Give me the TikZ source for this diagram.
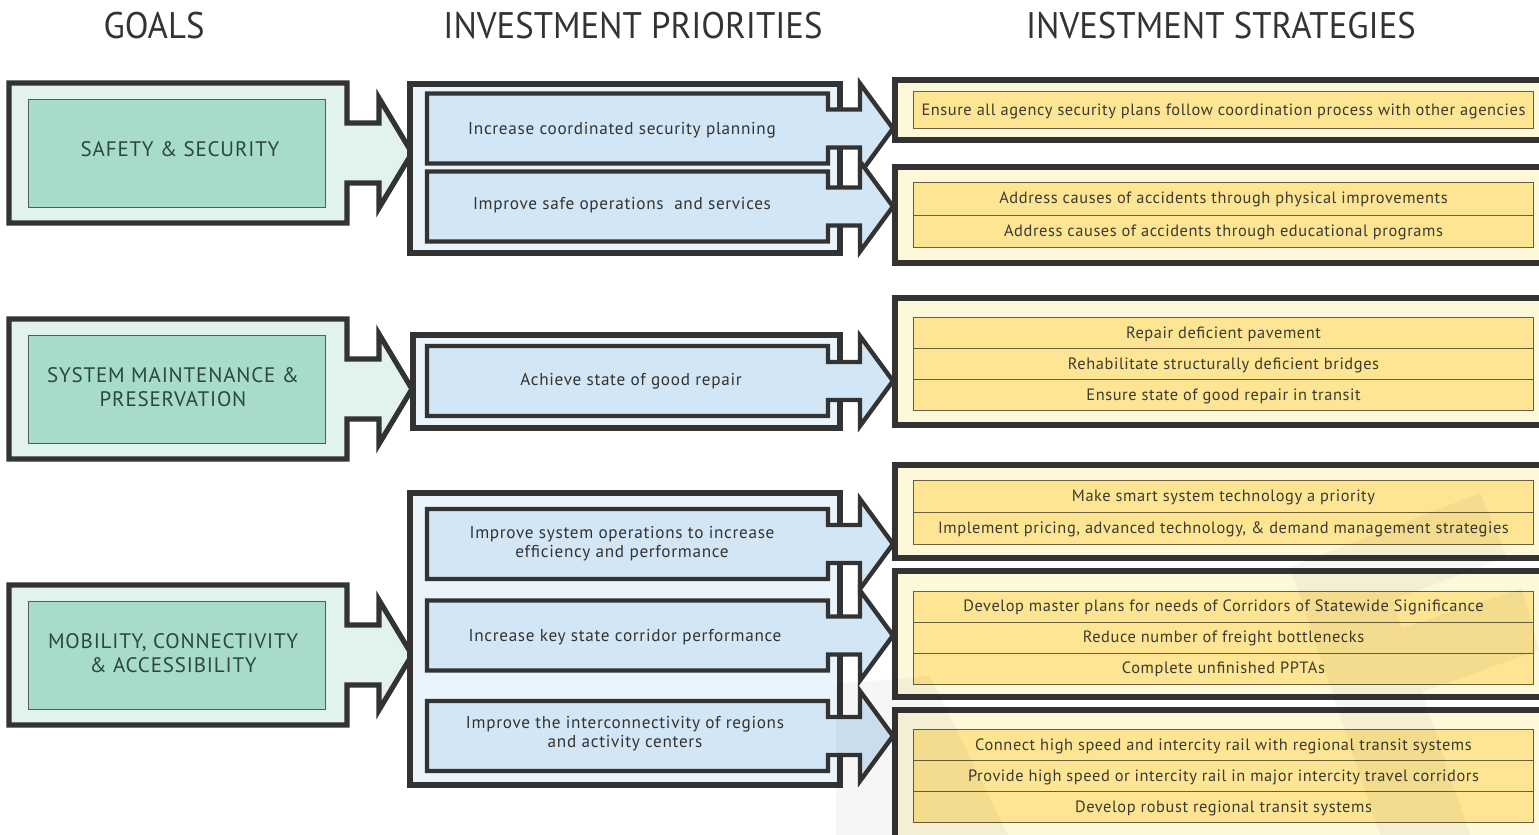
\documentclass[tikz,border=0pt]{standalone}
\usepackage{fontspec}
\setmainfont{PT Sans}
\newfontfamily\headfont[FakeStretch=0.94]{PT Sans}
\newfontfamily\spacedfont[LetterSpace=4]{PT Sans}
\newfontfamily\stratfont[LetterSpace=3.5]{PT Sans}
\usepackage{tikz}
\usetikzlibrary{matrix, positioning}
\usepackage{xcolor}

\definecolor{edgegray}{HTML}{333333}
\definecolor{goalback}{HTML}{E2F2EC}
\definecolor{goalfill}{HTML}{A7DCCA}
\definecolor{goaltext}{HTML}{2C4640}
\definecolor{prioback}{HTML}{EAF4FC}
\definecolor{priofill}{HTML}{D3E6F6}
\definecolor{stratback}{HTML}{FDF8DA}
\definecolor{stratfill}{HTML}{FDE594}
\definecolor{stratline}{HTML}{6B5E3A}
\definecolor{strattext}{HTML}{3D3A30}

% goal block arrow, #1 = middle row (px)
\newcommand{\goalarrow}[1]{%
	\draw[goal shape] (9,{#1-70}) -- (347,{#1-70}) -- (347,{#1-30}) -- (379,{#1-30}) -- (379,{#1-55}) -- (412,#1)
		-- (379,{#1+55}) -- (379,{#1+30}) -- (347,{#1+30}) -- (347,{#1+70}) -- (9,{#1+70}) -- cycle;
	\draw[goal inner] (28,{#1-54}) rectangle (325,{#1+54});
}
% priority block arrow, #1 = middle row (px)
\newcommand{\prioarrow}[1]{%
	\draw[prio shape] (427,{#1-35}) -- (828,{#1-35}) -- (828,{#1-19}) -- (860,{#1-19}) -- (860,{#1-45}) -- (893,#1)
		-- (860,{#1+45}) -- (860,{#1+19}) -- (828,{#1+19}) -- (828,{#1+35}) -- (427,{#1+35}) -- cycle;
}

\begin{document}
\begin{tikzpicture}[x=0.5pt, y=-0.5pt,
	goal shape/.style={draw=edgegray, line width=2.6pt, fill=goalback, line join=miter},
	goal inner/.style={draw=gray!70!black, line width=0.5pt, fill=goalfill},
	prio box/.style={draw=edgegray, line width=2.6pt, fill=prioback},
	prio shape/.style={draw=edgegray, line width=2.2pt, fill=priofill, line join=miter},
	strat box/.style={draw=edgegray, line width=2.8pt, fill=stratback},
	head/.style={font=\headfont\fontsize{18.5}{22}\selectfont, text=edgegray},
	goal text/.style={font=\spacedfont\fontsize{10.5}{12.2}\selectfont, text=goaltext, align=center},
	prio text/.style={font=\spacedfont\fontsize{8.6}{9.6}\selectfont, text=edgegray, align=center},
	strat list/.style={matrix of nodes, inner sep=0pt, outer sep=0pt, anchor=north west, row sep=-\pgflinewidth,
		nodes={draw=stratline, line width=0.5pt, fill=stratfill, minimum width=310pt, minimum height=#1,
			inner sep=0pt, text height=0.72em, text depth=0.22em, text=strattext, font=\stratfont\fontsize{8.2}{9}\selectfont}}
	]
		\useasboundingbox (0,0) rectangle (1539,835);

		% column heads
		\node[head] (goals) at (154,26) {GOALS};
		\node[head] (priorities) at (633,26) {INVESTMENT PRIORITIES};
		\node[head] (strategies) at (1221,26) {INVESTMENT STRATEGIES};

		% goals
		\goalarrow{153}
		\goalarrow{389}
		\goalarrow{655}
		\node[goal text] (safety) at (180,149) {SAFETY \& SECURITY};
		\node[goal text] (maintenance) at (173,387) {SYSTEM MAINTENANCE \&\\PRESERVATION};
		\node[goal text] (mobility) at (173,653) {MOBILITY, CONNECTIVITY\\\& ACCESSIBILITY};

		% priorities
		\draw[prio box] (410,84) rectangle (840,253);
		\draw[prio box] (413,335) rectangle (840,428);
		\draw[prio box] (410,493) rectangle (840,785);
		\prioarrow{128.5}
		\prioarrow{206.5}
		\prioarrow{381}
		\prioarrow{544}
		\prioarrow{635.5}
		\prioarrow{736}
		\node[prio text] (coordinated) at (622,130) {Increase coordinated security planning};
		\node[prio text] (safeops) at (622,205) {Improve safe operations \ and services};
		\node[prio text] (repair) at (631,381) {Achieve state of good repair};
		\node[prio text] (sysops) at (622,544) {Improve system operations to increase\\efficiency and performance};
		\node[prio text] (corridor) at (625,637) {Increase key state corridor performance};
		\node[prio text] (interconnect) at (625,734) {Improve the interconnectivity of regions\\and activity centers};

		% strategies
		\draw[strat box] (895,80) rectangle (1560,140);
		\draw[strat box] (895,167) rectangle (1560,263);
		\draw[strat box] (895,298) rectangle (1560,425);
		\draw[strat box] (895,465) rectangle (1560,558);
		\draw[strat box] (895,571) rectangle (1560,697);
		\draw[strat box] (895,710) rectangle (1560,860);
		\matrix (s1) [strat list=18.5pt] at (913,91) {
			Ensure all agency security plans follow coordination process with other agencies \\
		};
		\matrix (s2) [strat list=16.25pt] at (913,182) {
			Address causes of accidents through physical improvements \\
			Address causes of accidents through educational programs \\
		};
		\matrix (s3) [strat list=15.5pt] at (913,317) {
			Repair deficient pavement \\
			Rehabilitate structurally deficient bridges \\
			Ensure state of good repair in transit \\
		};
		\matrix (s4) [strat list=16pt] at (913,480) {
			Make smart system technology a priority \\
			Implement pricing, advanced technology, \& demand management strategies \\
		};
		\matrix (s5) [strat list=15.4pt] at (913,591) {
			Develop master plans for needs of Corridors of Statewide Significance \\
			Reduce number of freight bottlenecks \\
			Complete unfinished PPTAs \\
		};
		\matrix (s6) [strat list=15.5pt] at (913,729) {
			Connect high speed and intercity rail with regional transit systems \\
			Provide high speed or intercity rail in major intercity travel corridors \\
			Develop robust regional transit systems \\
		};

		% faint watermark
		\fill[black, opacity=0.035] (836,684) -- (930,676) -- (1008,835) -- (836,835) -- cycle;
		\fill[black, opacity=0.035] (1290,567) -- (1480,493) -- (1507,557) -- (1392,600) -- (1402,628) -- (1522,588)
			-- (1539,650) -- (1422,692) -- (1470,835) -- (1380,835) -- cycle;
	\end{tikzpicture}
\end{document}
